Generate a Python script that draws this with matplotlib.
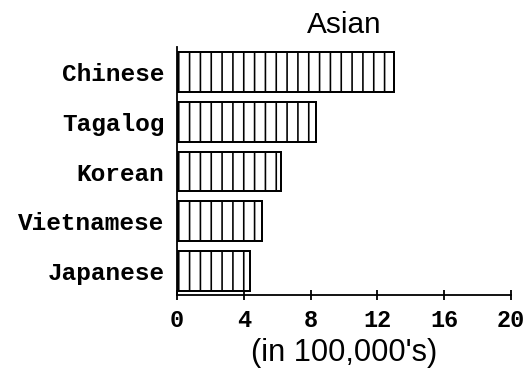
import matplotlib
matplotlib.use("Agg")
import matplotlib.pyplot as plt

# speakers, in 100,000's
languages = ["Japanese", "Vietnamese", "Korean", "Tagalog", "Chinese"]
speakers = [4.35, 5.1, 6.2, 8.3, 13.0]
xticks = [0, 4, 8, 12, 16, 20]

DPI = 130
plt.rcParams["hatch.linewidth"] = 0.9

fig = plt.figure(figsize=(532 / DPI, 379 / DPI), dpi=DPI)
ax = fig.add_axes([0.333, 0.2216, 0.6275, 0.6544])

ax.barh(range(len(languages)), speakers, height=0.8, color="white",
        edgecolor="black", linewidth=1.1, hatch="||")

ax.set_xlim(0, 20)
ax.set_ylim(-0.48, 4.5)
ax.set_xticks(xticks)
ax.set_xticklabels([str(t) for t in xticks], family="Liberation Mono",
                   fontsize=13, fontweight="bold")
ax.set_yticks(range(len(languages)))
ax.set_yticklabels(languages, family="Liberation Mono", fontsize=13.5,
                   fontweight="bold")

ax.spines["top"].set_visible(False)
ax.spines["right"].set_visible(False)
ax.spines["left"].set_linewidth(1.0)
ax.spines["bottom"].set_linewidth(1.0)
ax.tick_params(axis="x", direction="inout", length=6, width=1.0, pad=5)
ax.tick_params(axis="y", length=0, pad=7)

ax.set_title("Asian", family="Liberation Sans", fontsize=16.5, pad=8)
ax.set_xlabel("(in 100,000's)", family="Liberation Sans", fontsize=17,
              labelpad=3)

fig.savefig("out.png", dpi=DPI)
